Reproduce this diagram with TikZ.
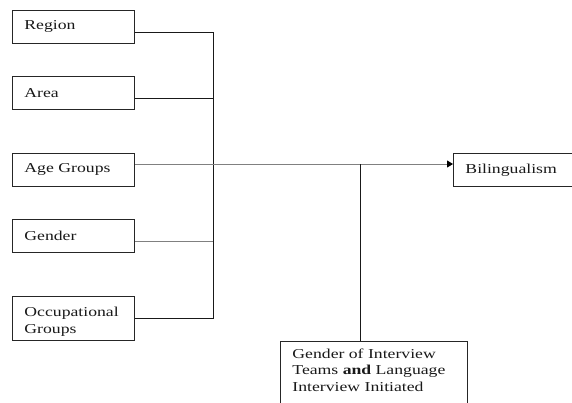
\documentclass[tikz,border=0pt]{standalone}
\usepackage{fontspec}
\setmainfont{Liberation Serif}[FakeStretch=1.3]
\usetikzlibrary{arrows.meta}
\begin{document}
\begin{tikzpicture}[x=1pt,y=-1pt,
  box/.style={draw=black!85, line width=0.9pt, anchor=north west, inner xsep=12pt, inner ysep=0pt,
    font=\fontsize{13.6}{16.7}\selectfont, text=black!90},
  lbox/.style={box, minimum width=122pt, minimum height=33pt, text width=98pt, align=left},
  wire/.style={line width=0.9pt, black!90},
  gwire/.style={line width=0.9pt, black!50}]
\useasboundingbox (0,0) rectangle (572,402);
\clip (0,0) rectangle (572,402);
\fill[white] (0,0) rectangle (572,402);

\node[lbox] (region) at (12,10) {Region};
\node[lbox] (area) at (12,76) {Area};
\node[lbox] (age) at (12,153) {Age Groups};
\node[lbox] (gender) at (12,219) {Gender};
\node[box, inner ysep=11pt] (occ) at (12,296) {\parbox[t][22pt][t]{98pt}{Occupational\\Groups}};
\node[lbox, minimum width=150pt, text width=126pt] (bil) at (453,153) {Bilingualism};
\node[box, inner ysep=7pt] (team) at (280,341) {\parbox[t][90pt][t]{163pt}{Gender of Interview\\Teams \textbf{and} Language\\Interview Initiated}};

\coordinate (bR) at (213,32);
\coordinate (bA) at (213,98);
\coordinate (bM) at (213,164);
\coordinate (bG) at (213,241);
\coordinate (bO) at (213,318);
\coordinate (jV) at (360,164);

\draw[wire] (region.east |- bR) -- (bR) -- (bO) -- (occ.east |- bO);
\draw[wire] (area.east |- bA) -- (bA);
\draw[gwire] (gender.east |- bG) -- (bG);
\draw[gwire, -{Triangle[length=6pt,width=7pt,color=black]}] (age.east |- bM) -- (bil.west |- bM);
\draw[wire] (jV) -- (jV |- team.north);
\end{tikzpicture}
\end{document}
